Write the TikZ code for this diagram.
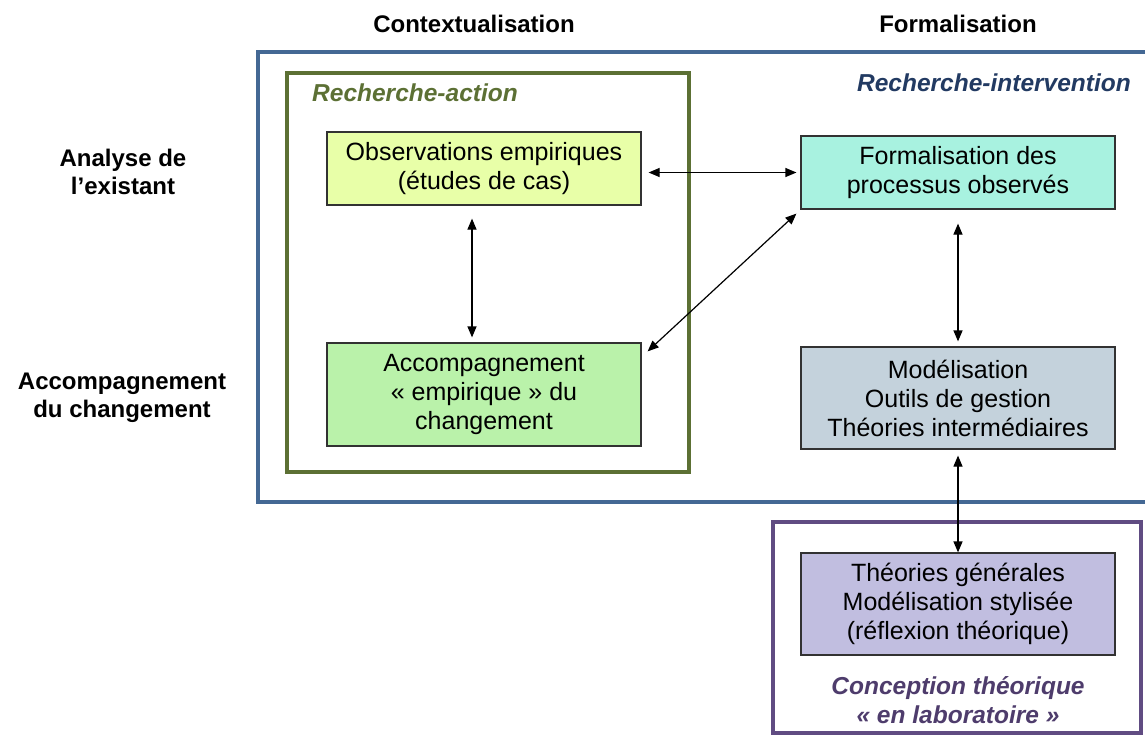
\documentclass[tikz,border=0pt]{standalone}
\usepackage{fontspec}
\setmainfont{Liberation Sans}
\usetikzlibrary{arrows.meta}
\definecolor{bluefr}{RGB}{68,104,148}
\definecolor{greenfr}{RGB}{92,112,52}
\definecolor{purplefr}{RGB}{96,76,130}
\definecolor{bluetxt}{RGB}{34,58,98}
\definecolor{purpletxt}{RGB}{78,60,108}
\definecolor{fobs}{RGB}{232,255,168}
\definecolor{facc}{RGB}{186,242,170}
\definecolor{fform}{RGB}{168,242,224}
\definecolor{fmod}{RGB}{196,210,220}
\definecolor{ftheo}{RGB}{193,190,224}
\definecolor{edge}{RGB}{50,50,50}
\tikzset{
  box/.style={draw=edge, line width=1.2pt, minimum width=314pt, align=center, inner sep=0pt,
    font=\fontsize{25}{29}\selectfont},
  hdr/.style={font=\fontsize{24}{28}\selectfont\bfseries, align=center, inner sep=0pt},
  ttl/.style={font=\fontsize{24.5}{29}\selectfont\bfseries\itshape, align=center, inner sep=0pt},
  frame/.style={line width=4pt},
  arr/.style={line width=1.2pt, {Triangle[length=11pt,width=9pt]}-{Triangle[length=11pt,width=9pt]}}
}
\begin{document}
\begin{tikzpicture}[x=1pt,y=-1pt]
\useasboundingbox (0,0) rectangle (1145,742);
% frames
\draw[frame, draw=bluefr] (1152,52) -- (258,52) -- (258,502) -- (1152,502);
\draw[frame, draw=greenfr] (287,73) rectangle (689,472);
\draw[frame, draw=purplefr] (773,522) rectangle (1141,733);
% headers
\node[hdr] (hctx) at (474,24) {Contextualisation};
\node[hdr] (hform) at (958,24) {Formalisation};
\node[hdr] (hana) at (123,172) {Analyse de\\l’existant};
\node[hdr] (hacc) at (122,398) {Accompagnement\\du changement};
% frame titles
\node[ttl, text=greenfr, anchor=west] (tra) at (312,93) {Recherche-action};
\node[ttl, text=bluetxt, anchor=east] (tri) at (1131,83) {Recherche-intervention};
\node[ttl, text=purpletxt] (tct) at (958,700) {Conception théorique\\« en laboratoire »};
% boxes
\node[box, fill=fobs, minimum height=73pt] (obs) at (484,168.5) {Observations empiriques\\(études de cas)};
\node[box, fill=facc, minimum height=103pt] (acc) at (484,394.5) {Accompagnement\\« empirique » du\\changement};
\node[box, fill=fform, minimum height=73pt] (form) at (958,172.5) {Formalisation des\\processus observés};
\node[box, fill=fmod, minimum height=102pt] (mod) at (958,398) {Modélisation\\Outils de gestion\\Théories intermédiaires};
\node[box, fill=ftheo, minimum height=102pt] (theo) at (958,604) {Théories générales\\Modélisation stylisée\\(réflexion théorique)};
% connectors
\draw[arr] ([xshift=7pt]obs.east |- form.west) -- ([xshift=-4pt]form.west);
\draw[arr] ([yshift=-13pt]obs.south -| 472,0) -- ([yshift=5pt]acc.north -| 472,0);
\draw[arr] ([xshift=-4pt,yshift=-4pt]form.south west) -- ([xshift=6pt,yshift=-9pt]acc.north east);
\draw[arr] ([yshift=-14pt]form.south) -- ([yshift=5pt]mod.north);
\draw[arr] ([yshift=-6pt]mod.south) -- (theo.north);
\end{tikzpicture}
\end{document}
